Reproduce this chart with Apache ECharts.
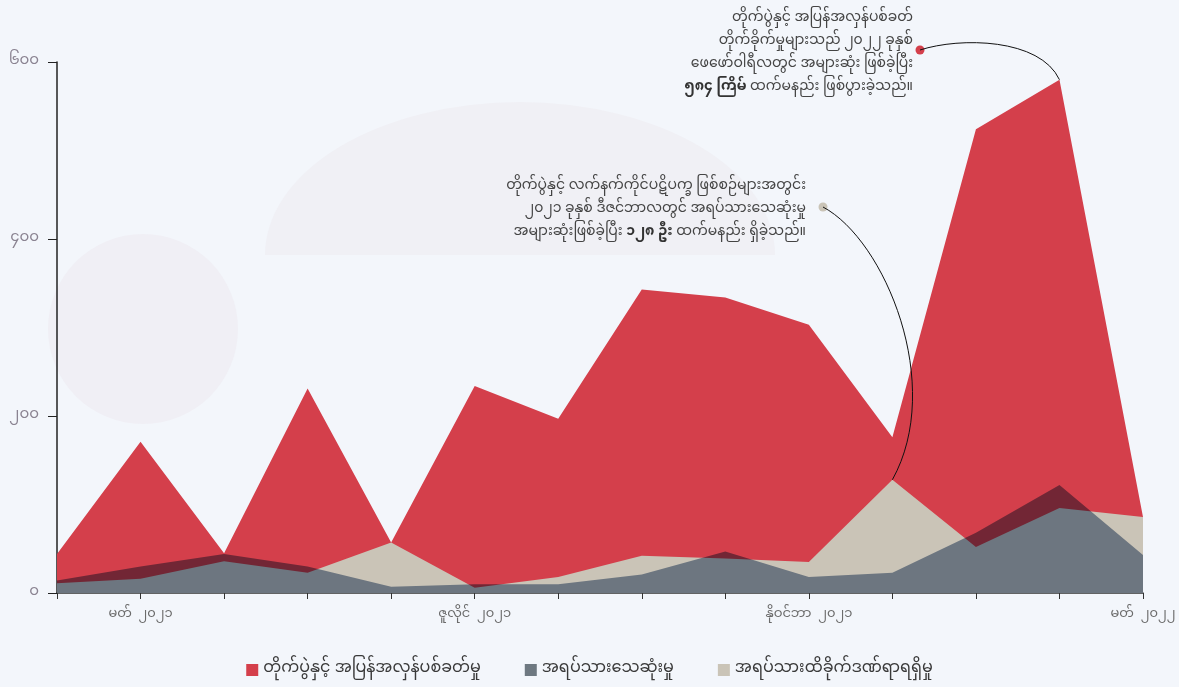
<!DOCTYPE html>
<html>
<head>
<meta charset="utf-8">
<style>
  html, body { margin: 0; padding: 0; background: #f3f6fb; }
  #chart { width: 1179px; height: 687px; }
</style>
<script src="https://cdn.jsdelivr.net/npm/echarts@6/dist/echarts.min.js"></script>
</head>
<body>
<div id="chart"></div>
<script>
// months Feb 2021 .. Mar 2022
const categories = [
  'ဖေဖော်ဝါရီ  ၂၀၂၁', 'မတ်  ၂၀၂၁', 'ဧပြီ  ၂၀၂၁', 'မေ  ၂၀၂၁', 'ဇွန်  ၂၀၂၁', 'ဇူလိုင်  ၂၀၂၁',
  'ဩဂုတ်  ၂၀၂၁', 'စက်တင်ဘာ  ၂၀၂၁', 'အောက်တိုဘာ  ၂၀၂၁', 'နိုဝင်ဘာ  ၂၀၂၁', 'ဒီဇင်ဘာ  ၂၀၂၁',
  'ဇန်နဝါရီ  ၂၀၂၂', 'ဖေဖော်ဝါရီ  ၂၀၂၂', 'မတ်  ၂၀၂၂'
];
const fighting = [44, 171, 45, 231, 57, 234, 197, 343, 334, 303, 176, 524, 580, 86];
const deaths   = [11, 16, 36, 23, 57, 6, 18, 42, 39, 35, 128, 52, 96, 86];
const injuries = [14, 30, 44, 30, 7, 10, 10, 21, 47, 18, 23, 68, 122, 43];
const yTickLabels = ['၀', '၂၀၀', '၄၀၀', '၆၀၀'];
const shownMonths = [1, 5, 9, 13];

const names = ['တိုက်ပွဲနှင့် အပြန်အလှန်ပစ်ခတ်မှု', 'အရပ်သားသေဆုံးမှု', 'အရပ်သားထိခိုက်ဒဏ်ရာရရှိမှု'];
const FONT = "'Noto Sans Myanmar', 'Padauk', 'Myanmar Text', 'Noto Sans', sans-serif";

const chart = echarts.init(document.getElementById('chart'));

const option = {
  backgroundColor: '#f3f6fb',
  animation: false,
  textStyle: { fontFamily: FONT },
  grid: { left: 57, right: 36, top: 62, bottom: 94 },
  legend: {
    top: 657,
    left: 'center',
    icon: 'rect',
    itemWidth: 12,
    itemHeight: 12,
    itemGap: 44,
    textStyle: { fontSize: 16, color: '#3a3a3a', fontFamily: FONT },
    data: [
      { name: names[0], itemStyle: { color: '#d43f4b' } },
      { name: names[1], itemStyle: { color: '#6e7881' } },
      { name: names[2], itemStyle: { color: '#cac4b7' } }
    ]
  },
  xAxis: {
    type: 'category',
    boundaryGap: false,
    data: categories,
    axisLine: { lineStyle: { color: '#333', width: 1.5 } },
    axisTick: { show: true, interval: 0, length: 6, lineStyle: { color: '#333' } },
    axisLabel: {
      interval: (i) => shownMonths.includes(i),
      margin: 16,
      fontSize: 13,
      color: '#6b6b6b',
      fontFamily: FONT
    }
  },
  yAxis: {
    type: 'value',
    min: 0,
    max: 600,
    interval: 200,
    splitLine: { show: false },
    axisLine: { show: true, lineStyle: { color: '#222', width: 1.5 } },
    axisTick: { show: true, length: 9, lineStyle: { color: '#222' } },
    axisLabel: {
      margin: 18,
      fontSize: 15,
      color: '#8a8391',
      fontFamily: FONT,
      formatter: (v) => yTickLabels[v / 200]
    }
  },
  series: [
    {
      name: names[0],
      type: 'line',
      data: fighting,
      symbol: 'none',
      color: '#d43f4b',
      lineStyle: { opacity: 0 },
      areaStyle: { color: '#d43f4b', opacity: 1 }
    },
    {
      name: names[1],
      type: 'line',
      data: deaths,
      symbol: 'none',
      color: '#cac4b7',
      lineStyle: { opacity: 0 },
      areaStyle: { color: '#cac4b7', opacity: 1 }
    },
    {
      name: names[2],
      type: 'line',
      data: injuries,
      symbol: 'none',
      color: '#899ab2',
      blendMode: 'multiply',
      lineStyle: { opacity: 0 },
      areaStyle: { color: '#899ab2', opacity: 1 }
    }
  ]
};

chart.setOption(option);

// annotation curves end on the data points
const peak = chart.convertToPixel({ seriesIndex: 0 }, [12, fighting[12]]);
const deathPeak = chart.convertToPixel({ seriesIndex: 1 }, [10, deaths[10]]);

const annoStyle = { fontSize: 14, fill: '#444', fontFamily: FONT, lineHeight: 23, align: 'right' };

chart.setOption({
  graphic: [
    { type: 'circle', shape: { cx: 143, cy: 329, r: 95 }, style: { fill: '#f0eff5' }, z: -10, silent: true },
    { type: 'sector', shape: { cx: 520, cy: 255, r0: 0, r: 255, startAngle: Math.PI, endAngle: 2 * Math.PI }, scaleY: 0.6, originY: 255, style: { fill: '#f0f0f5' }, z: -10, silent: true },
    {
      type: 'text', x: 913, y: 8, z: 10,
      style: Object.assign({}, annoStyle, {
        text: 'တိုက်ပွဲနှင့် အပြန်အလှန်ပစ်ခတ်\nတိုက်ခိုက်မှုများသည် ၂၀၂၂ ခုနှစ်\nဖေဖော်ဝါရီလတွင် အများဆုံး ဖြစ်ခဲ့ပြီး\n{b|၅၈၄ ကြိမ်} ထက်မနည်း ဖြစ်ပွားခဲ့သည်။',
        rich: { b: { fontWeight: 'bold', fontSize: 14, fill: '#333', fontFamily: FONT } }
      })
    },
    { type: 'circle', shape: { cx: 920, cy: 50, r: 4.5 }, style: { fill: '#d43f4b' }, z: 10 },
    {
      type: 'bezierCurve', z: 10,
      shape: { x1: 920, y1: 50, cpx1: 960, cpy1: 37, cpx2: 1040, cpy2: 38, x2: peak[0], y2: peak[1] },
      style: { stroke: '#111', lineWidth: 1, fill: null }
    },
    {
      type: 'text', x: 806, y: 176, z: 10,
      style: Object.assign({}, annoStyle, {
        text: 'တိုက်ပွဲနှင့် လက်နက်ကိုင်ပဋိပက္ခ ဖြစ်စဉ်များအတွင်း\n၂၀၂၁ ခုနှစ် ဒီဇင်ဘာလတွင် အရပ်သားသေဆုံးမှု\nအများဆုံးဖြစ်ခဲ့ပြီး {b|၁၂၈ ဦး} ထက်မနည်း ရှိခဲ့သည်။',
        rich: { b: { fontWeight: 'bold', fontSize: 14, fill: '#333', fontFamily: FONT } }
      })
    },
    { type: 'circle', shape: { cx: 823, cy: 207, r: 4.5 }, style: { fill: '#cac4b7' }, z: 10 },
    {
      type: 'bezierCurve', z: 10,
      shape: { x1: 823, y1: 207, cpx1: 885, cpy1: 240, cpx2: 945, cpy2: 385, x2: deathPeak[0], y2: deathPeak[1] },
      style: { stroke: '#111', lineWidth: 1, fill: null }
    }
  ]
});
</script>
</body>
</html>
